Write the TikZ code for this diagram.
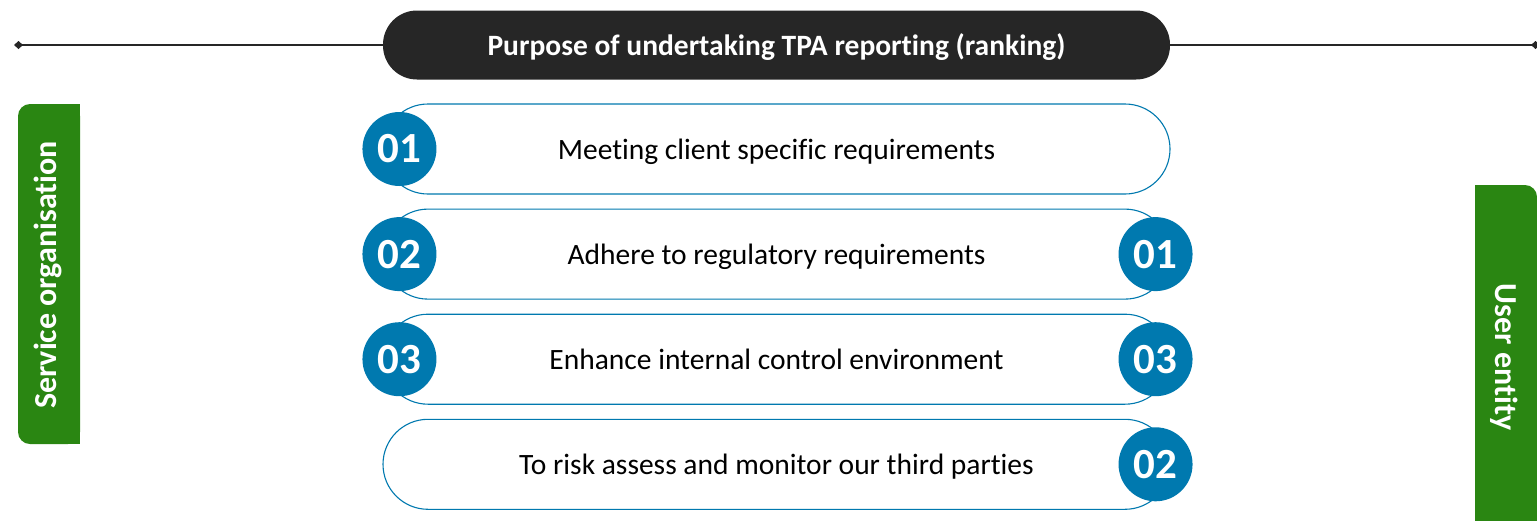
\documentclass[tikz,border=0pt]{standalone}
\usepackage{fontspec}
\setmainfont{Carlito}[Ligatures=NoCommon]
\usepackage{tikz}
\usetikzlibrary{arrows.meta, positioning}
\definecolor{tpablue}{HTML}{0079AF}
\definecolor{tpagreen}{HTML}{2A8612}
\definecolor{tpadark}{HTML}{262626}
\tikzset{
  titlebar/.style={fill=tpadark, rounded corners=34pt, minimum width=787pt, minimum height=69pt,
    text depth=1pt, text=white, font=\bfseries\fontsize{29.5}{29.5}\selectfont},
  rowpill/.style={draw=tpablue, line width=1.1pt, fill=white, rounded corners=45pt,
    minimum width=787pt, minimum height=90pt, text depth=0pt, font=\fontsize{29.5}{29.5}\selectfont},
  numbadge/.style={circle, fill=tpablue, minimum size=74pt, inner sep=0pt,
    text=white, font=\bfseries\fontsize{43}{43}\selectfont},
  sidetext/.style={text=white, font=\bfseries\fontsize{32}{32}\selectfont}
}
\begin{document}
\begin{tikzpicture}[x=1pt, y=-1pt]
  \useasboundingbox (0,0) rectangle (1537,520);
  % header line and title
  \node[titlebar] (title) at (776.5,45) {Purpose of undertaking TPA reporting (ranking)};
  \coordinate (lend) at (14,45);
  \coordinate (rend) at (1540,45);
  \draw[tpadark, line width=2.5pt, {Diamond[length=9pt,width=8pt]}-] (lend) -- (title.west);
  \draw[tpadark, line width=2.5pt, -{Diamond[length=9pt,width=8pt]}] (title.east) -- (rend);

  % green side bars
  \fill[tpagreen, rounded corners=12pt] (18,104) rectangle (80,444);
  \fill[tpagreen] (50,104) rectangle (80,444);
  \node[sidetext, rotate=90] (service) at (48,275) {Service organisation};
  \fill[tpagreen, rounded corners=12pt] (1475,185) rectangle (1537,560);
  \fill[tpagreen] (1475,185) rectangle (1505,560);
  \node[sidetext, rotate=-90] (user) at (1504,357) {User entity};

  % rows
  \node[rowpill] (r1) at (776.5,149) {Meeting client specific requirements};
  \node[rowpill, below=14pt of r1] (r2) {Adhere to regulatory requirements};
  \node[rowpill, below=14pt of r2] (r3) {Enhance internal control environment};
  \node[rowpill, below=14pt of r3] (r4) {To risk assess and monitor our third parties};

  % ranking badges
  \node[numbadge] (s1) at ([xshift=17pt]r1.west) {01};
  \node[numbadge] (s2) at ([xshift=17pt]r2.west) {02};
  \node[numbadge] (s3) at ([xshift=17pt]r3.west) {03};
  \node[numbadge] (u1) at ([xshift=-15pt]r2.east) {01};
  \node[numbadge] (u3) at ([xshift=-15pt]r3.east) {03};
  \node[numbadge] (u2) at ([xshift=-15pt]r4.east) {02};
\end{tikzpicture}
\end{document}
